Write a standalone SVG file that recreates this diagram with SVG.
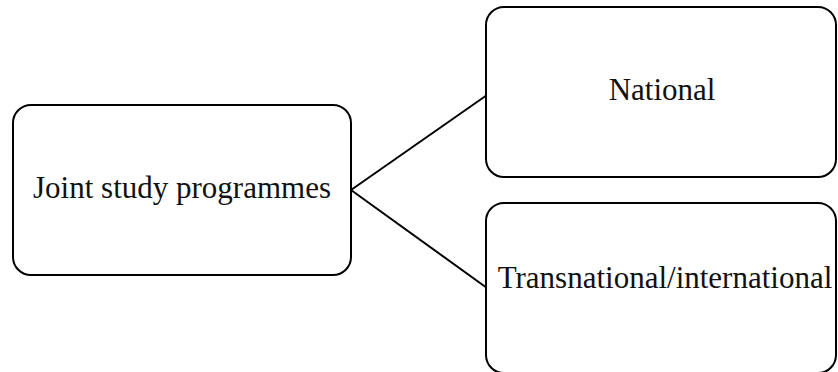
<svg xmlns="http://www.w3.org/2000/svg" width="838" height="372" viewBox="0 0 838 372">
<style>
.box{fill:#fff;stroke:#000;stroke-width:2}
.lbl{font-family:"Liberation Serif","Times New Roman",serif;font-size:31px;fill:#111;text-anchor:middle}
.conn{stroke:#000;stroke-width:2;fill:none}
</style>
<rect width="838" height="372" fill="#fff"/>
<g id="connectors">
<line class="conn" x1="351" y1="190" x2="487" y2="95"/>
<line class="conn" x1="351" y1="190" x2="487" y2="288"/>
</g>
<g id="joint">
<rect class="box" x="13" y="105" width="338" height="170" rx="18"/>
<text class="lbl" x="182" y="198">Joint study programmes</text>
</g>
<g id="national">
<rect class="box" x="486" y="7" width="350" height="170" rx="18"/>
<text class="lbl" x="662" y="100">National</text>
</g>
<g id="transnational">
<rect class="box" x="486" y="203" width="350" height="170" rx="18"/>
<text class="lbl" x="665" y="288">Transnational/international</text>
</g>
</svg>
